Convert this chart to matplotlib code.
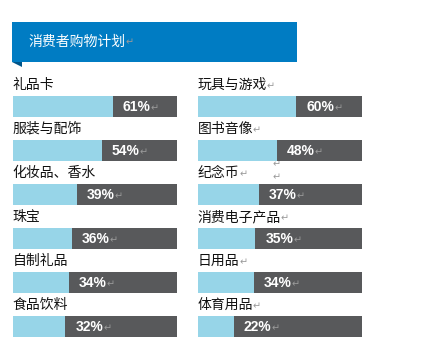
import matplotlib
matplotlib.use('Agg')
import matplotlib.pyplot as plt
from matplotlib.patches import Rectangle, Polygon

plt.rcParams['font.family'] = ['Noto Sans CJK SC', 'DejaVu Sans']

title = '消费者购物计划'
left_labels = ['礼品卡', '服装与配饰', '化妆品、香水', '珠宝', '自制礼品', '食品饮料']
left_values = [61, 54, 39, 36, 34, 32]
right_labels = ['玩具与游戏', '图书音像', '纪念币', '消费电子产品', '日用品', '体育用品']
right_values = [60, 48, 37, 35, 34, 22]

W, H = 426, 348
LIGHT = '#97D5E8'
DARK = '#58595B'
MARK = '#9a9a9a'
RET = '\u21b5'

fig = plt.figure(figsize=(W / 100, H / 100), dpi=100)

# banner in pixel coords
bg = fig.add_axes([0, 0, 1, 1])
bg.set_xlim(0, W)
bg.set_ylim(H, 0)
bg.axis('off')
bg.add_patch(Rectangle((12, 22), 285, 40, color='#007CC3', lw=0))
bg.add_patch(Polygon([(12, 62), (22, 62), (22, 67)], color='#00558A', lw=0))
t = bg.text(28, 42, title, color='white', fontsize=10, va='center')
bg.annotate(RET, xy=(1, 0.45), xycoords=t, color=MARK, fontsize=7,
            va='center', family='DejaVu Sans')
# stray paragraph marks near 纪念币
bg.text(273, 164, RET, color=MARK, fontsize=7, va='center', family='DejaVu Sans')
bg.text(273, 177, RET, color=MARK, fontsize=7, va='center', family='DejaVu Sans')


def column(x0, labels, values, marks):
    ax = fig.add_axes([x0 / W, 0, 164 / W, 286 / H])
    ax.set_xlim(0, 100)
    ax.set_ylim(5.489, -1.011)
    ax.axis('off')
    pos = list(range(len(values)))
    ax.barh(pos, [100] * len(values), height=0.48, color=DARK, lw=0)
    ax.barh(pos, values, height=0.48, color=LIGHT, lw=0)
    for i, (lab, v) in enumerate(zip(labels, values)):
        lt = ax.text(-0.3, i - 0.49, lab, fontsize=10, va='center', ha='left', color='#111111')
        if marks:
            ax.annotate(RET, xy=(1, 0.4), xycoords=lt, color=MARK, fontsize=7,
                        va='center', family='DejaVu Sans')
        pt = ax.text(v + 6, i + 0.02, f'{v}%', fontsize=10, fontweight='bold',
                     color='white', va='center', ha='left', family='Liberation Sans')
        ax.annotate(RET, xy=(1, 0.4), xycoords=pt, color=MARK, fontsize=7,
                    va='center', family='DejaVu Sans')
    return ax


column(13, left_labels, left_values, False)
column(198, right_labels, right_values, True)

fig.savefig('out.png', dpi=100, facecolor='white')
